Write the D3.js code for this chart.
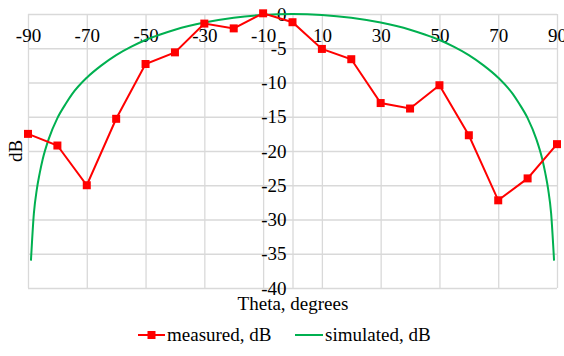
<!DOCTYPE html>
<html>
<head>
<meta charset="utf-8">
<script src="https://cdn.jsdelivr.net/npm/d3@7"></script>
<style>
  body { margin: 0; background: #fff; }
</style>
</head>
<body>
<svg id="chart" width="564" height="356"></svg>
<script>
// measured pattern, every 10 degrees
const measTheta = [-90, -80, -70, -60, -50, -40, -30, -20, -10, 0, 10, 20, 30, 40, 50, 60, 70, 80, 90];
const measDb    = [-17.5, -19.2, -25.0, -15.3, -7.3, -5.6, -1.4, -2.1, 0.1, -1.2, -5.1, -6.6, -13.0, -13.8, -10.4, -17.7, -27.2, -24.0, -19.0];

// simulated pattern
const simTheta = [-89, -88, -87, -86, -85, -83, -80, -77, -75, -70, -65, -60, -55, -50, -45, -40, -30, -20, -10, 0,
                  10, 20, 30, 40, 45, 50, 55, 60, 65, 70, 75, 77, 80, 83, 85, 86, 87, 88, 89];
const simDb    = [-36, -29.1, -25.6, -23.2, -21.2, -18.3, -15.2, -13.0, -11.7, -9.3, -7.5, -6.0, -4.8, -3.8, -3.0, -2.3, -1.25, -0.54, -0.13, 0,
                  -0.13, -0.54, -1.25, -2.3, -3.0, -3.8, -4.8, -6.0, -7.5, -9.3, -11.7, -13.0, -15.2, -18.3, -21.2, -23.2, -25.6, -29.1, -36];

const xTicks = [-90, -70, -50, -30, -10, 10, 30, 50, 70, 90];
const yTicks = [0, -5, -10, -15, -20, -25, -30, -35, -40];

const svg = d3.select("#chart"),
      pLeft = 28, pRight = 557, pTop = 14, pBottom = 288,
      fs = 19,
      serif = "'Liberation Serif', 'Times New Roman', 'DejaVu Serif', serif";

const x = d3.scaleLinear().domain([-90, 90]).range([pLeft, pRight]),
      y = d3.scaleLinear().domain([-40, 0]).range([pBottom, pTop]);

const grid = "#d9d9d9";

// horizontal grid
svg.append("g")
  .attr("transform", `translate(${pLeft},0)`)
  .call(d3.axisLeft(y).tickValues(yTicks).tickSize(-(pRight - pLeft)).tickFormat(""))
  .call(g => g.select(".domain").remove())
  .call(g => g.selectAll("line").attr("stroke", grid).attr("stroke-width", 1.3));

// vertical grid
svg.append("g")
  .attr("transform", `translate(0,${pBottom})`)
  .call(d3.axisBottom(x).tickValues(xTicks.concat([0])).tickSize(-(pBottom - pTop)).tickFormat(""))
  .call(g => g.select(".domain").remove())
  .call(g => g.selectAll("line").attr("stroke", grid).attr("stroke-width", 1.3));

// x labels hang under the 0 dB line
svg.append("g")
  .attr("transform", `translate(0,${y(0)})`)
  .call(d3.axisBottom(x).tickValues(xTicks).tickSize(0).tickPadding(15).tickFormat(d => String(d)))
  .call(g => g.select(".domain").remove())
  .call(g => g.attr("font-family", serif).attr("font-size", fs))
  .call(g => g.selectAll("text").attr("fill", "#000"));

// y labels sit left of theta = 0
svg.append("g")
  .attr("transform", `translate(${x(0)},0)`)
  .call(d3.axisLeft(y).tickValues(yTicks).tickSize(0).tickPadding(6).tickFormat(d => String(d)))
  .call(g => g.select(".domain").remove())
  .call(g => g.attr("font-family", serif).attr("font-size", fs))
  .call(g => g.selectAll("text").attr("fill", "#000"));

// simulated
const sim = simTheta.map((t, i) => [t, simDb[i]]);
svg.append("path")
  .datum(sim)
  .attr("fill", "none")
  .attr("stroke", "#00b050")
  .attr("stroke-width", 2)
  .attr("d", d3.line().x(d => x(d[0])).y(d => y(d[1])).curve(d3.curveMonotoneX));

// measured
const meas = measTheta.map((t, i) => [t, measDb[i]]);
svg.append("path")
  .datum(meas)
  .attr("fill", "none")
  .attr("stroke", "#ff0000")
  .attr("stroke-width", 2)
  .attr("d", d3.line().x(d => x(d[0])).y(d => y(d[1])));

svg.selectAll(".mk")
  .data(meas)
  .enter().append("rect")
    .attr("class", "mk")
    .attr("x", d => x(d[0]) - 4)
    .attr("y", d => y(d[1]) - 4)
    .attr("width", 8)
    .attr("height", 8)
    .attr("fill", "#ff0000");

// axis titles
svg.append("text")
  .attr("x", 293).attr("y", 310)
  .attr("text-anchor", "middle")
  .attr("font-family", serif).attr("font-size", fs)
  .text("Theta, degrees");

svg.append("text")
  .attr("transform", `translate(22,${(pTop + pBottom) / 2}) rotate(-90)`)
  .attr("text-anchor", "middle")
  .attr("font-family", serif).attr("font-size", fs)
  .text("dB");

// legend
const leg = svg.append("g").attr("transform", "translate(0,341)")
  .attr("font-family", serif).attr("font-size", fs);
leg.append("line").attr("x1", 138).attr("x2", 165).attr("y1", -6).attr("y2", -6)
  .attr("stroke", "#ff0000").attr("stroke-width", 2);
leg.append("rect").attr("x", 147.5).attr("y", -10).attr("width", 8).attr("height", 8).attr("fill", "#ff0000");
leg.append("text").attr("x", 167).attr("y", 0).text("measured, dB");
leg.append("line").attr("x1", 295).attr("x2", 323).attr("y1", -6).attr("y2", -6)
  .attr("stroke", "#00b050").attr("stroke-width", 2);
leg.append("text").attr("x", 325).attr("y", 0).text("simulated, dB");
</script>
</body>
</html>
